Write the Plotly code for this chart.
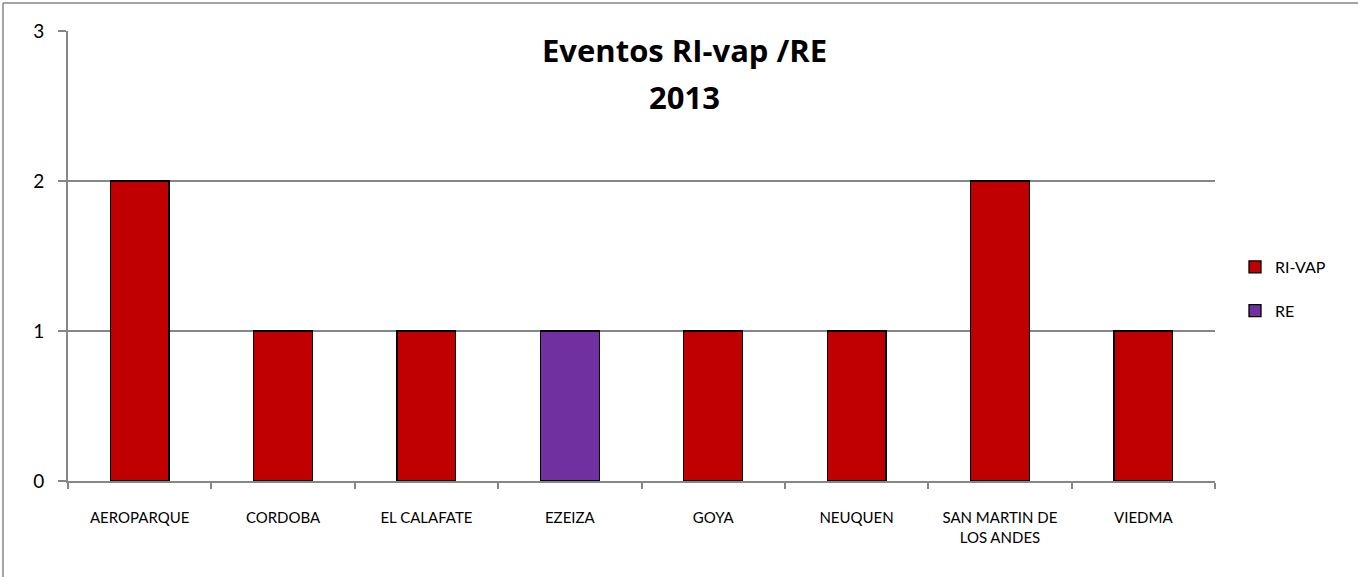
import plotly.graph_objects as go

categories = ["AEROPARQUE", "CORDOBA", "EL CALAFATE", "EZEIZA", "GOYA",
              "NEUQUEN", "SAN MARTIN DE<br>LOS ANDES", "VIEDMA"]
ri_vap = [2, 1, 1, None, 1, 1, 2, 1]
re_vals = [None, None, None, 1, None, None, None, None]
y_ticks = [0, 1, 2, 3]

W, H = 1358, 577
L, R, T, B = 68, 143, 31, 96
pw, ph = W - L - R, H - T - B

def px_x(p):
    return (p - L) / pw

def px_y(p):
    return (H - B - p) / ph

fig = go.Figure()
fig.add_trace(go.Bar(x=categories, y=ri_vap, name="RI-VAP", marker=dict(color="#C00000", line=dict(color="black", width=1.3)), legendgroup="a"))
fig.add_trace(go.Bar(x=categories, y=re_vals, name="RE", marker=dict(color="#7030A0", line=dict(color="black", width=1.3)), legendgroup="b"))

title_font = dict(size=31, family="Open Sans, Lato, sans-serif", color="black")
fig.update_layout(
    width=W, height=H,
    margin=dict(l=L, r=R, t=T, b=B),
    barmode="stack", bargap=0.59,
    plot_bgcolor="white", paper_bgcolor="white",
    font=dict(family="Lato, Liberation Sans, sans-serif", color="black"),
    annotations=[
        dict(text="<b>Eventos RI-vap /RE</b>", xref="paper", yref="paper", x=px_x(684), y=px_y(50),
             xanchor="center", yanchor="middle", showarrow=False, font=title_font),
        dict(text="<b>2013</b>", xref="paper", yref="paper", x=px_x(684), y=px_y(97),
             xanchor="center", yanchor="middle", showarrow=False, font=title_font),
    ],
    legend=dict(x=px_x(1235), xanchor="left", y=px_y(289), yanchor="middle",
                traceorder="grouped", tracegroupgap=20, font=dict(size=16),
                itemwidth=30, bgcolor="rgba(0,0,0,0)"),
    xaxis=dict(showline=True, linecolor="#868686", linewidth=2, ticks="outside",
               tickson="boundaries", ticklen=6, tickcolor="#868686", tickwidth=2,
               tickfont=dict(size=15), showgrid=False, ticklabelstandoff=22),
    yaxis=dict(range=[0, 3], tickvals=y_ticks, showline=True, linecolor="#868686", linewidth=2,
               ticks="outside", ticklen=8, tickcolor="#868686", tickwidth=2,
               showgrid=True, gridcolor="#868686", gridwidth=1.5, zeroline=False,
               tickfont=dict(size=19), ticklabelstandoff=10),
    shapes=[
        dict(type="line", xref="paper", yref="paper", x0=px_x(3), x1=px_x(3), y0=px_y(3), y1=px_y(577), line=dict(color="#868686", width=1.5)),
        dict(type="line", xref="paper", yref="paper", x0=px_x(3), x1=px_x(1358), y0=px_y(3), y1=px_y(3), line=dict(color="#868686", width=1.5)),
    ],
)

fig.write_html("out.html", config={"displayModeBar": False},
               post_script="document.body.style.margin='0px';")
